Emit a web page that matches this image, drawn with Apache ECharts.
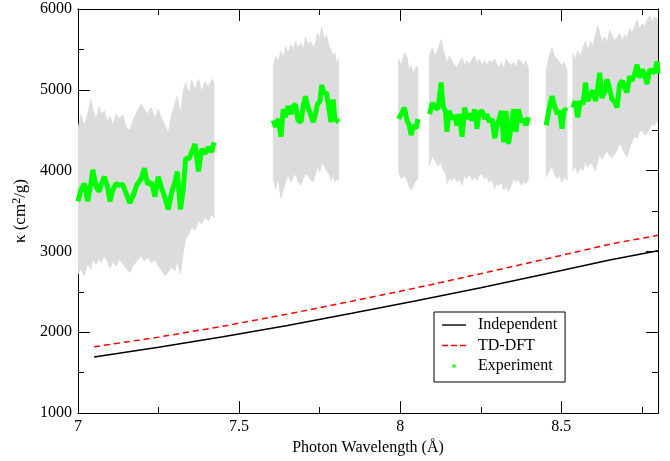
<!DOCTYPE html>
<html>
<head>
<meta charset="utf-8">
<script src="https://cdn.jsdelivr.net/npm/echarts@6/dist/echarts.min.js"></script>
<style>html,body{margin:0;padding:0;background:#fff}#c{width:670px;height:461px}</style>
</head>
<body>
<div id="c"></div>
<script>
// ---- Model curves ----
const modelX = [7.05, 7.25, 7.45, 7.65, 7.85, 8.05, 8.25, 8.45, 8.65, 8.8];
const independentY = [1695, 1815, 1945, 2085, 2235, 2390, 2550, 2720, 2895, 3010];
const tddftY = [1820, 1940, 2075, 2225, 2385, 2550, 2725, 2905, 3090, 3200];

// ---- Experiment (null separates measured segments) ----
const expX = [
  7.000,7.009,7.020,7.030,7.040,7.046,7.056,7.066,7.071,7.082,7.092,7.099,7.108,7.118,7.128,7.139,7.149,7.161,7.172,7.182,7.196,7.206,7.216,7.227,7.239,7.249,7.260,7.270,7.280,7.291,7.301,7.308,7.318,7.327,7.334,7.345,7.353,7.363,7.374,7.384,7.394,7.405,7.415,7.422,
  null,
  7.606,7.613,7.621,7.630,7.637,7.644,7.652,7.661,7.668,7.675,7.683,7.692,7.699,7.706,7.714,7.723,7.730,7.737,7.743,7.751,7.756,7.764,7.771,7.779,7.785,7.792,7.797,7.802,7.809,
  null,
  7.995,8.003,8.013,8.021,8.028,8.034,8.041,8.049,8.055,
  null,
  8.091,8.100,8.109,8.117,8.127,8.133,8.140,8.145,8.152,8.161,8.169,8.176,8.183,8.192,8.200,8.207,8.214,8.223,8.231,8.238,8.245,8.254,8.262,8.269,8.276,8.285,8.293,8.300,8.307,8.314,8.321,8.328,8.336,8.345,8.352,8.359,8.367,8.376,8.383,8.390,8.398,
  null,
  8.453,8.461,8.471,8.478,8.487,8.495,8.502,8.509,8.518,
  null,
  8.536,8.543,8.551,8.559,8.567,8.575,8.582,8.590,8.598,8.606,8.613,8.619,8.626,8.634,8.642,8.650,8.657,8.665,8.673,8.681,8.689,8.696,8.704,8.712,8.719,8.727,8.735,8.743,8.751,8.758,8.766,8.774,8.782,8.789,8.797,8.800
];
const expY = [
  3620,3760,3840,3620,3840,4010,3800,3740,3820,3925,3800,3620,3760,3840,3820,3830,3720,3600,3700,3820,3900,4030,3830,3860,3680,3925,3780,3660,3520,3740,3860,3990,3520,3780,4150,4150,4230,4330,3990,4270,4210,4290,4230,4350,
  null,
  4620,4540,4640,4420,4760,4660,4800,4700,4800,4820,4620,4600,4800,4920,4780,4680,4600,4700,4820,4860,5060,4950,4970,4760,4600,4880,4640,4620,4600,
  null,
  4640,4700,4780,4620,4560,4440,4560,4520,4640,
  null,
  4700,4840,4780,4760,5090,4800,4740,4480,4740,4640,4680,4560,4700,4420,4780,4640,4700,4620,4760,4520,4720,4740,4640,4700,4600,4640,4400,4560,4640,4740,4350,4740,4330,4560,4760,4480,4760,4600,4640,4560,4660,
  null,
  4560,4740,4920,4820,4700,4740,4520,4760,4740,
  null,
  4780,4860,4660,4860,4820,5090,4860,4950,4990,4860,5030,5210,4900,4970,5130,5010,4880,4860,4780,5070,5110,5030,4970,5170,5110,5190,5310,5150,5250,5190,5070,5250,5230,5210,5350,5200
];
const expUpper = [
  4520,4690,4560,4700,4880,4760,4640,4790,4700,4740,4600,4680,4560,4700,4640,4690,4540,4500,4640,4720,4820,4760,4700,4780,4650,4760,4640,4560,4470,4700,4820,4920,4700,5000,5080,4960,5120,5000,5130,4980,5100,5040,5130,5100,
  null,
  5300,5420,5360,5480,5400,5540,5460,5560,5500,5600,5520,5580,5500,5650,5560,5600,5520,5580,5700,5640,5780,5620,5680,5540,5500,5420,5460,5340,5380,
  null,
  5380,5300,5460,5400,5240,5300,5200,5290,5270,
  null,
  5440,5520,5420,5500,5620,5500,5400,5340,5420,5360,5300,5280,5340,5400,5300,5360,5320,5380,5420,5320,5380,5300,5360,5300,5360,5340,5380,5320,5280,5340,5260,5380,5340,5300,5340,5280,5380,5340,5300,5360,5250,
  null,
  5230,5400,5520,5420,5380,5340,5300,5340,5240,
  null,
  5440,5380,5480,5420,5520,5600,5480,5600,5540,5680,5800,5700,5600,5660,5580,5740,5680,5620,5640,5700,5600,5680,5640,5760,5700,5780,5860,5760,5820,5780,5860,5920,5840,5900,5880,5800
];
const expLower = [
  2720,2780,2700,2850,2780,2900,2840,2920,2860,2940,2880,2790,2870,2820,2900,2850,2790,2740,2830,2880,2940,2880,2930,2860,2900,2820,2760,2700,2740,2800,2760,2880,2720,3000,3150,3220,3300,3260,3380,3340,3420,3380,3460,3420,
  null,
  3880,3780,3900,3660,3760,3860,3940,3860,3920,3960,3860,3820,3900,3960,3940,3880,3860,3960,4060,3980,4100,4060,4000,3960,3880,3940,3860,3900,3880,
  null,
  3990,3900,3940,3880,3800,3760,3820,3880,3900,
  null,
  4060,4180,4120,4060,4100,4000,3980,3840,3900,3880,3920,3860,3900,3820,3940,3900,3960,3880,3920,3880,3940,3960,3900,3920,3860,3880,3780,3840,3820,3860,3760,3800,3740,3820,3900,3860,3880,3820,3860,3840,3900,
  null,
  3920,3980,4060,3960,3900,3940,3860,3920,3880,
  null,
  4000,4060,3960,4040,4000,4120,4040,4100,4060,4000,4120,4200,4140,4200,4250,4180,4160,4200,4260,4340,4280,4220,4170,4280,4360,4420,4400,4480,4500,4440,4460,4520,4580,4560,4620,4580
];

// ---- Axis ticks ----
const xMin = 7, xMax = 8.8, xMajor = 0.5, xMinor = 0.25;
const yMin = 1000, yMax = 6000, yMajor = 1000, yMinor = 500;

// ---- build ----
const FONT = 'Liberation Serif';
const segments = [];
let cur = [];
for (let i = 0; i < expX.length; i++) {
  if (expX[i] === null) { if (cur.length) segments.push(cur); cur = []; }
  else cur.push(i);
}
if (cur.length) segments.push(cur);

const greenData = expX.map((x, i) => x === null ? ['-', '-'] : [x, expY[i]]);

const chart = echarts.init(document.getElementById('c'), null, {renderer: 'canvas'});
const tickCol = '#000';
const baseX = {
  type: 'value', min: xMin, max: xMax, gridIndex: 0,
  axisLine: {show: true, onZero: false, lineStyle: {color: '#000', width: 1}},
  splitLine: {show: false}
};
const baseY = {
  type: 'value', min: yMin, max: yMax, gridIndex: 0,
  axisLine: {show: true, onZero: false, lineStyle: {color: '#000', width: 1}},
  splitLine: {show: false}
};
const tk = len => ({show: true, inside: true, length: len, lineStyle: {color: tickCol, width: 1}});
chart.setOption({
  animation: false,
  backgroundColor: '#fff',
  grid: {left: 78, right: 12, top: 9, bottom: 44},
  xAxis: [
    Object.assign({}, baseX, {
      position: 'bottom', interval: xMajor, axisTick: tk(12),
      axisLabel: {show: true, showMaxLabel: false, margin: 6, color: '#000', fontFamily: FONT, fontSize: 16},
      name: 'Photon Wavelength (Å)', nameLocation: 'middle', nameGap: 25,
      nameTextStyle: {fontFamily: FONT, fontSize: 16, color: '#000'}
    }),
    Object.assign({}, baseX, {position: 'bottom', interval: xMinor, axisTick: tk(6), axisLabel: {show: false}}),
    Object.assign({}, baseX, {position: 'top', interval: xMajor, axisTick: tk(12), axisLabel: {show: false}}),
    Object.assign({}, baseX, {position: 'top', interval: xMinor, axisTick: tk(6), axisLabel: {show: false}})
  ],
  yAxis: [
    Object.assign({}, baseY, {
      position: 'left', interval: yMajor, axisTick: tk(12),
      axisLabel: {margin: 6, color: '#000', fontFamily: FONT, fontSize: 16, formatter: v => String(v)},
      name: 'κ (cm{sup|2}/g)', nameLocation: 'middle', nameGap: 37, nameRotate: 90,
      nameTextStyle: {fontFamily: FONT, fontSize: 17, color: '#000',
        rich: {sup: {fontFamily: FONT, fontSize: 12, color: '#000', verticalAlign: 'bottom', padding: [0, 0, 8, 0]}}}
    }),
    Object.assign({}, baseY, {position: 'left', interval: yMinor, axisTick: tk(6), axisLabel: {show: false}}),
    Object.assign({}, baseY, {position: 'right', interval: yMajor, axisTick: tk(12), axisLabel: {show: false}}),
    Object.assign({}, baseY, {position: 'right', interval: yMinor, axisTick: tk(6), axisLabel: {show: false}})
  ],
  legend: {
    orient: 'vertical', left: 434, top: 312,
    padding: [5, 8, 8, 8],
    itemWidth: 24, itemHeight: 14, itemGap: 4.5,
    borderColor: '#000', borderWidth: 1, borderRadius: 0, backgroundColor: '#fff',
    textStyle: {fontFamily: FONT, fontSize: 16, color: '#000', padding: [0, 0, 0, 7]},
    data: [
      {name: 'Independent', icon: 'path://M0,0L0,0M24,14L24,14M0,6.3h24v1.4h-24z', itemStyle: {color: '#000'}},
      {name: 'TD-DFT', icon: 'path://M0,0L0,0M24,14L24,14M0,6.3h6v1.4h-6zM9,6.3h6v1.4h-6zM18,6.3h6v1.4h-6z', itemStyle: {color: '#ff0000'}},
      {name: 'Experiment', icon: 'path://M0,0L0,0M24,14L24,14M10.5,5.5h3v3h-3z', itemStyle: {color: '#00ff00'}}
    ]
  },
  series: [
    {
      type: 'custom', name: 'band', silent: true, clip: true, z: 1,
      data: segments.map((s, i) => [i]),
      renderItem: function (params, api) {
        const seg = segments[params.dataIndex];
        const pts = [];
        seg.forEach(i => pts.push(api.coord([expX[i], expUpper[i]])));
        for (let k = seg.length - 1; k >= 0; k--) { const i = seg[k]; pts.push(api.coord([expX[i], expLower[i]])); }
        return {type: 'polygon', shape: {points: pts}, style: {fill: '#dcdcdc', stroke: '#dcdcdc', lineWidth: 0.8}};
      }
    },
    {
      type: 'line', name: 'Experiment', data: greenData, symbol: 'none', z: 3,
      connectNulls: false, lineStyle: {color: '#00ff00', width: 5}, itemStyle: {color: '#00ff00'}
    },
    {
      type: 'line', name: 'Independent', data: modelX.map((x, i) => [x, independentY[i]]),
      symbol: 'none', smooth: false, z: 4, lineStyle: {color: '#000', width: 1.5}, itemStyle: {color: '#000'}
    },
    {
      type: 'line', name: 'TD-DFT', data: modelX.map((x, i) => [x, tddftY[i]]),
      symbol: 'none', smooth: false, z: 4, lineStyle: {color: '#ff0000', width: 1.5, type: [6, 4]}, itemStyle: {color: '#ff0000'}
    }
  ]
});
</script>
</body>
</html>
